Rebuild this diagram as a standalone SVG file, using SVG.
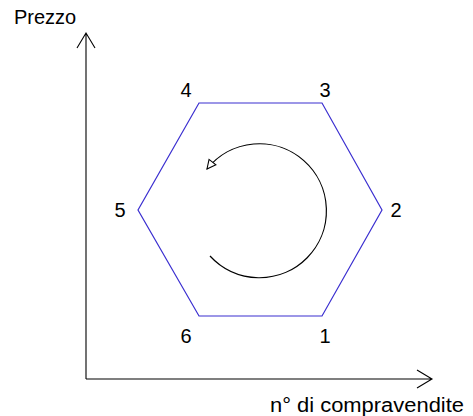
<svg xmlns="http://www.w3.org/2000/svg" width="473" height="416" viewBox="0 0 473 416">
<style>
text{font-family:"Liberation Sans",Arial,sans-serif;font-size:20px;fill:#000}
.lbl{text-anchor:middle}
.axis{stroke:#000;stroke-width:1.1;fill:none}
.hex{stroke:#3a2ed0;stroke-width:1.2;fill:none}
</style>
<defs>
<marker id="open" viewBox="0 0 10 10" refX="9" refY="5" markerWidth="11" markerHeight="11" markerUnits="userSpaceOnUse" orient="auto">
<path d="M1,1 L9,5 L1,9 Z" fill="#fff" stroke="#000" stroke-width="1"/>
</marker>
</defs>
<g id="axes" class="connectors">
<path class="axis" d="M86,379 V33 M77,48 L86,33 L95,48"/>
<path class="axis" d="M86,379 H432 M417,370 L432,379 L417,388"/>
</g>
<g id="hexagon">
<polygon class="hex" points="199,103 322,103 382,210 322,316 199,316 138,210"/>
</g>
<g id="cycle-arrow" class="connectors">
<path d="M210,256 A67,67 0 1 0 207,169" fill="none" stroke="#000" stroke-width="1.2" marker-end="url(#open)"/>
</g>
<g id="labels">
<text x="14" y="24">Prezzo</text>
<text x="270" y="412" textLength="194" lengthAdjust="spacingAndGlyphs">n° di compravendite</text>
<text class="lbl" x="186" y="97">4</text>
<text class="lbl" x="325" y="97">3</text>
<text class="lbl" x="396" y="217">2</text>
<text class="lbl" x="120" y="217">5</text>
<text class="lbl" x="186" y="343">6</text>
<text class="lbl" x="325" y="343">1</text>
</g>
</svg>
